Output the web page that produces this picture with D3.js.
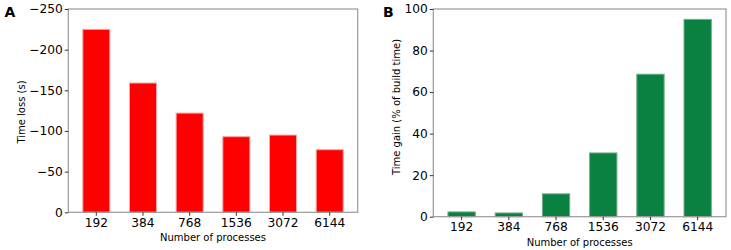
<!DOCTYPE html>
<html>
<head>
<meta charset="utf-8">
<script src="https://cdn.jsdelivr.net/npm/d3@7"></script>
<style>
  body { margin: 0; background: #fff; }
  svg text { font-family: "DejaVu Sans", sans-serif; fill: #000; }
</style>
</head>
<body>
<div id="chart"></div>
<script>
// data
var processes = ["192", "384", "768", "1536", "3072", "6144"];
var timeLoss = [-225, -159, -122, -93, -95, -77];
var timeGain = [2.3, 1.8, 11, 30.7, 68.6, 95];
var lossTicks = [0, -50, -100, -150, -200, -250];
var gainTicks = [0, 20, 40, 60, 80, 100];

var width = 731, height = 250;

var svg = d3.select("#chart").append("svg")
  .attr("width", width)
  .attr("height", height);

function drawPanel(opts) {
  var g = svg.append("g");

  var x = d3.scaleBand()
    .domain(processes)
    .range([opts.left, opts.right])
    .paddingInner(0.4)
    .paddingOuter(0.3);

  var y = d3.scaleLinear()
    .domain(opts.domain)
    .range([opts.bottom, opts.top]);

  // bars
  g.selectAll("rect.bar")
    .data(opts.values)
    .enter().append("rect")
    .attr("class", "bar")
    .attr("x", function(d, i) { return x(processes[i]) + 0.5; })
    .attr("width", x.bandwidth() - 1)
    .attr("y", function(d) { return y(d); })
    .attr("height", function(d) { return y(opts.domain[0]) - y(d); })
    .attr("fill", opts.color)
    .attr("stroke", opts.edge)
    .attr("stroke-width", 1);

  // frame
  g.append("rect")
    .attr("x", opts.left)
    .attr("y", opts.top)
    .attr("width", opts.right - opts.left)
    .attr("height", opts.bottom - opts.top)
    .attr("fill", "none")
    .attr("stroke", "#9a9a9a")
    .attr("stroke-width", 1.2);

  var xAxis = g.append("g")
    .attr("transform", "translate(0," + opts.bottom + ")")
    .call(d3.axisBottom(x).tickSize(3.5).tickPadding(2.5));
  xAxis.select(".domain").remove();
  xAxis.selectAll("line").attr("stroke", "#333");
  xAxis.selectAll("text").attr("font-size", "12.2px").style("font-family", "DejaVu Sans");

  var yAxis = g.append("g")
    .attr("transform", "translate(" + opts.left + ",0)")
    .call(d3.axisLeft(y).tickValues(opts.ticks).tickSize(3.5).tickPadding(2)
      .tickFormat(function(d) { return d < 0 ? "\u2212" + Math.abs(d) : d; }));
  yAxis.select(".domain").remove();
  yAxis.selectAll("line").attr("stroke", "#333");
  yAxis.selectAll("text").attr("font-size", "12.2px").style("font-family", "DejaVu Sans");

  g.append("text")
    .attr("x", (opts.left + opts.right) / 2)
    .attr("y", opts.xLabelY)
    .attr("text-anchor", "middle")
    .attr("font-size", "10px")
    .text("Number of processes");

  g.append("text")
    .attr("transform", "translate(" + opts.yLabelX + "," + opts.yLabelCy + ") rotate(-90)")
    .attr("text-anchor", "middle")
    .attr("font-size", "10px")
    .text(opts.yLabel);

  g.append("text")
    .attr("x", opts.letterX)
    .attr("y", 16.5)
    .attr("font-size", "14px")
    .attr("font-weight", "bold")
    .text(opts.letter);
}

drawPanel({
  left: 68.3, right: 357.7, top: 9, bottom: 212.3,
  domain: [0, -250], ticks: lossTicks, values: timeLoss,
  color: "#ff0000", edge: "#f7a5a5",
  xLabelY: 240.5, yLabelX: 24.5, yLabelCy: 112,
  yLabel: "Time loss (s)", letter: "A", letterX: 4.5
});

drawPanel({
  left: 433.3, right: 726, top: 9, bottom: 216.7,
  domain: [0, 100], ticks: gainTicks, values: timeGain,
  color: "#0a8141", edge: "#6fae88",
  xLabelY: 245.5, yLabelX: 400, yLabelCy: 107,
  yLabel: "Time gain (% of build time)", letter: "B", letterX: 383
});
</script>
</body>
</html>
